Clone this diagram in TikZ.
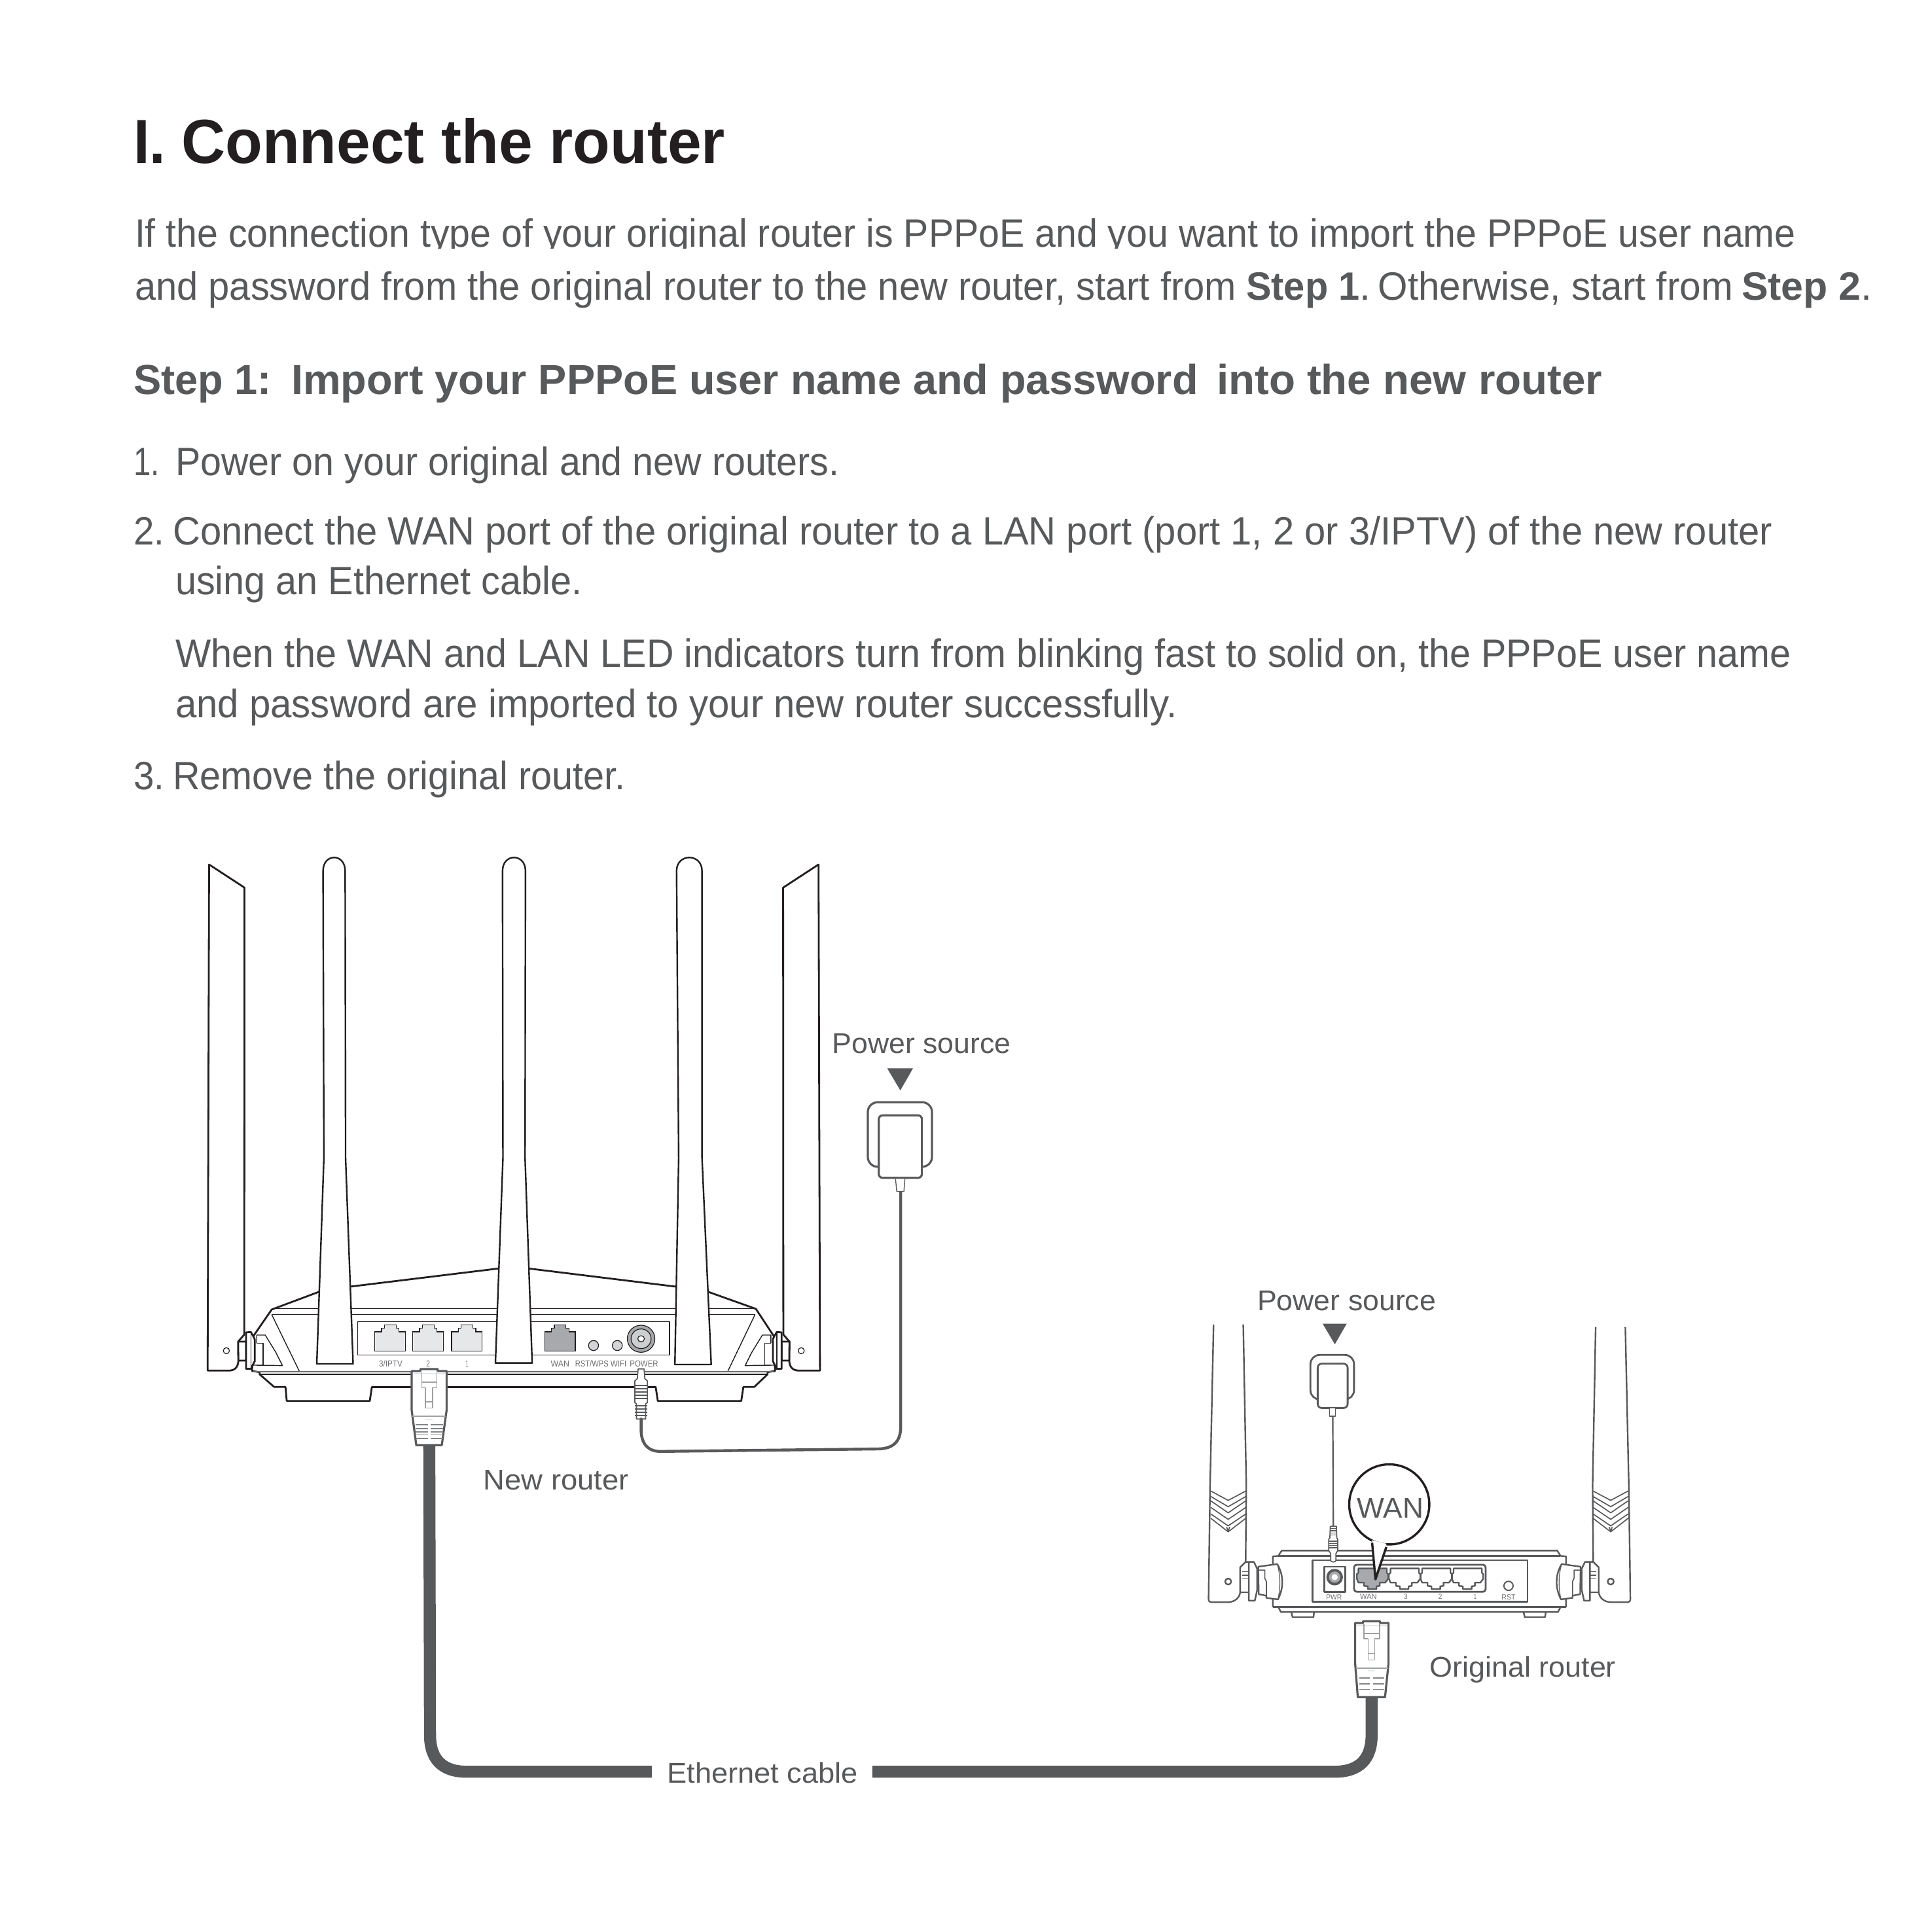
\documentclass[tikz,border=0pt]{standalone}
\usepackage{fontspec}
\setmainfont{Liberation Sans}
\usepackage{graphicx}
\definecolor{ink}{HTML}{231F20}
\definecolor{txt}{HTML}{58595B}
\definecolor{tinyc}{HTML}{6D6E71}
\definecolor{pale}{HTML}{E6E7E8}
\definecolor{mid}{HTML}{A7A9AC}
\definecolor{clip}{HTML}{9EA0A2}
\newsavebox\fitbox
\newlength\fitlen
\newcommand\fit[2]{\sbox\fitbox{#2}\setlength\fitlen{\wd\fitbox}\pgfmathsetmacro\fitr{#1*0.47066/\fitlen}\scalebox{\fitr}[1]{\usebox\fitbox}}
% name, x, baseline, width, style, text
\newcommand\lbl[6]{\node[anchor=base west,inner sep=0pt,#5] (#1) at (#2,#3) {\fit{#4}{#6}};}
\newcommand\clbl[6]{\node[anchor=base,inner sep=0pt,#5] (#1) at (#2,#3) {\fit{#4}{#6}};}
\tikzset{
  titletext/.style={font=\fontsize{23.8}{26}\selectfont\bfseries,text=ink},
  bodytext/.style={font=\fontsize{15.1}{18}\selectfont,text=txt},
  boldtext/.style={font=\fontsize{15.1}{18}\selectfont\bfseries,text=txt},
  headtext/.style={font=\fontsize{16}{18}\selectfont\bfseries,text=txt},
  labeltext/.style={font=\fontsize{10.9}{12}\selectfont,text=txt},
  tinytext/.style={font=\fontsize{3.3}{4}\selectfont,text=tinyc},
  tinytextb/.style={font=\fontsize{2.8}{3.5}\selectfont,text=tinyc},
  bline/.style={draw=ink,line width=0.7pt,line join=round},
  hair/.style={draw=ink,line width=0.35pt,line join=round},
  sline/.style={draw=txt,line width=0.6pt,line join=round},
  shair/.style={draw=txt,line width=0.42pt,line join=round},
  cordline/.style={draw=txt,line width=1.1pt,line cap=round},
  ethline/.style={draw=txt,line width=4.6pt},
  plugline/.style={draw=txt,line width=0.8pt,line join=round,fill=white},
  clipline/.style={draw=clip,line width=0.42pt,line join=round},
  bigframe/.style={shift={(148.7,1009.2)},xscale=0.33875,yscale=0.17705},
  smallframe/.style={shift={(966.85,1062.3)},xscale=0.2358,yscale=0.21},
  hframe/.style={shift={(159.3,1062.3)},scale=0.17705},
  sframe/.style={shift={(977.3,1205.7)},scale=0.17705},
  pframe/.style={shift={(1067.6,1258.8)},scale=0.17705},
  qframe/.style={shift={(308.1,1104.8)},scale=0.17705},
}
\newcommand\rtport[2]{\draw[draw=ink,line width=0.35pt,fill=#2,shift={(#1,0)}] (459,493)--(459,405)--(475,405)--(475,388)--(482,388)--(482,373)--(510,373)--(510,388)--(517,388)--(517,405)--(532,405)--(532,493)--cycle;}
\newcommand\rtflat{%
  \draw[bline,fill=white] (58.7,-2037)--(221,-1931)--(220,118)--(192,150)--(193,240) .. controls (190,270) and (175,283) .. (148,283)--(52,283)--cycle;
  \draw[hair,line width=0.3pt] (138,192) circle [radius=14];
}
\newcommand\rthinge{%
  \draw[bline,fill=white] (192,150)--(228,150)--(228,237)--(193,237)--cycle;
  \draw[bline,fill=white] (228,108)--(250,106)--(264,130)--(268,140)--(268,240)--(253,268)--(252,275)--(228,275)--cycle;
  \draw[hair] (250,106)--(250,275);
  \draw[hair] (277,157)--(277,120)--(316,120)--(365,200)--(395,260)--(262,258);
  \draw[hair] (277,157)--(306,157)--(306,258);
}
\newcommand\rtant[7]{\draw[bline,fill=white,line width=0.6pt] (#1,#7)--(#2,-391)--(#3,-1707) .. controls (#3,-1790) and (#4,-1790) .. (#4,-1707)--(#5,-391)--(#6,#7)--cycle;}
\newcommand\smant[1]{%
  \draw[sline,fill=white] (43,#1)--(27,0)--(20,520) .. controls (20,530) and (25,535) .. (32,535)--(105,535) .. controls (145,535) and (165,510) .. (165,485)--(165,375)--(190,350)--(193,0)--(179,#1);
  \foreach \aa/\bb in {25/68,50/97,70/125,100/155,130/185,150/212}{\draw[shair] (30,\aa)--(110,\bb)--(191,\aa);}
  \draw[shair] (103,190)--(110,210)--(117,190);
  \draw[sline] (110,440) circle [radius=14];
}
\newcommand\smhinge{%
  \draw[sline,fill=white] (190,350)--(228,350)--(243,382)--(243,478)--(232,528)--(205,528)--(205,350)--cycle;
  \draw[sline] (205,490)--(168,490);
  \draw[shair] (175,395)--(205,395) (175,412)--(205,412) (175,428)--(205,428);
  \draw[sline,fill=white] (248,372)--(335,360) .. controls (365,410) and (365,470) .. (338,522)--(285,515)--(285,505)--(250,498)--cycle;
  \draw[shair,line width=0.3pt] (335,360) .. controls (350,410) and (350,470) .. (338,522);
  \draw[shair] (248,388)--(278,388)--(278,425)--(285,440)--(285,505);
}
\newcommand\smport[2]{\draw[sline,fill=#2,shift={(#1,0)}] (197,80)--(327,80)--(327,100)--(333,106)--(333,128)--(320,145)--(295,145)--(295,160)--(280,162)--(280,175)--(240,175)--(240,162)--(222,160)--(222,145)--(197,145)--(190,128)--(190,106)--(197,100)--cycle;}
\begin{document}
\begin{tikzpicture}[x=0.47066pt,y=-0.47066pt]
\useasboundingbox (0,0) rectangle (1568,1549.4);
\fill[white] (0,0) rectangle (1568,1549.4);
% ---- text ----
\lbl{titlenum}{108}{132.5}{26}{titletext}{I.}
\lbl{title}{147}{132.5}{441}{titletext}{Connect the router}
\lbl{intro1}{109}{200.4}{1348}{bodytext}{If the connection type of your original router is PPPoE and you want to import the PPPoE user name}
\fill[white] (100,202) rectangle (1540,216);
\lbl{introA}{109}{243.4}{894}{bodytext}{and password from the original router to the new router, start from}
\lbl{introB}{1011}{243.4}{92}{boldtext}{Step 1}
\lbl{introC}{1103}{243.4}{9}{bodytext}{.}
\lbl{introD}{1118}{243.4}{288}{bodytext}{Otherwise, start from}
\lbl{introE}{1413}{243.4}{97}{boldtext}{Step 2}
\lbl{introF}{1510}{243.4}{9}{bodytext}{.}
\lbl{headA}{108}{320}{112}{headtext}{Step 1:}
\lbl{headB}{236}{320}{736}{headtext}{Import your PPPoE user name and password}
\lbl{headC}{987}{320}{313}{headtext}{into the new router}
\lbl{numone}{108}{386}{21}{bodytext}{1.}
\lbl{itemone}{142}{386}{539}{bodytext}{Power on your original and new routers.}
\lbl{numtwo}{108}{442}{25}{bodytext}{2.}
\lbl{itemtwoa}{140}{442}{1298}{bodytext}{Connect the WAN port of the original router to a LAN port (port 1, 2 or 3/IPTV) of the new router}
\lbl{itemtwob}{142}{482.5}{330}{bodytext}{using an Ethernet cable.}
\lbl{itemtwoc}{142}{541.5}{1311}{bodytext}{When the WAN and LAN LED indicators turn from blinking fast to solid on, the PPPoE user name}
\lbl{itemtwod}{142}{582.5}{813}{bodytext}{and password are imported to your new router successfully.}
\lbl{numthree}{108}{641}{25}{bodytext}{3.}
\lbl{itemthree}{140}{641}{367}{bodytext}{Remove the original router.}
\lbl{powerA}{675}{855}{145}{labeltext}{Power source}
\lbl{powerB}{1020}{1063.5}{145}{labeltext}{Power source}
\lbl{newrouter}{392}{1209}{118}{labeltext}{New router}
\lbl{origrouter}{1160}{1361}{151}{labeltext}{Original router}
\lbl{ethlabel}{541}{1447}{155}{labeltext}{Ethernet cable}
% ---- ethernet cable ----
\coordinate (plugA) at (348.4,1172);
\coordinate (plugB) at (1113.2,1376);
\coordinate (ethL) at (529,1438);
\coordinate (ethR) at (708,1438);
\draw[ethline] (plugA)--(349,1408) .. controls (349,1428) and (359,1438) .. (379,1438)--(ethL);
\draw[ethline] (ethR)--(1083,1438) .. controls (1103,1438) and (1113.2,1428) .. (1113.2,1408)--(plugB);
% ---- new router ----
\begin{scope}[hframe]\rtflat\end{scope}
\begin{scope}[shift={(834,0)},xscale=-1]\begin{scope}[hframe]\rtflat\end{scope}\end{scope}
\begin{scope}[bigframe]
  \draw[bline,fill=white] (212,303)--(325,222)--(400,198)--(755,115)--(828,115)--(1180,198)--(1258,222)--(1372,300)--(1415,425)--(1418,585)--(1400,590)--(1400,600)--(1368,658)--(1342,658)--(1337,722)--(1137,722)--(1132,658)--(452,658)--(447,722)--(248,722)--(245,658)--(218,658)--(183,600)--(183,590)--(165,585)--(168,425)--cycle;
  \draw[hair] (215,298)--(1370,298) (183,600)--(1400,600);
  \draw[draw=tinyc,line width=0.45pt] (168,587)--(1415,587);
  \draw[draw=ink,line width=0.3pt] (212,326)--(1370,326);
  \draw[hair] (212,326)--(278,585) (1370,326)--(1305,585);
  \draw[bline,line width=0.9pt] (452,658)--(1132,658);
  \draw[hair,line width=0.4pt,fill=white] (418,358) rectangle (1165,512);
  \rtport{0}{pale}\rtport{91}{pale}\rtport{184}{pale}\rtport{407}{mid}
  \draw[draw=ink,line width=0.3pt,fill=pale!70!mid] (983,468) circle [x radius=12,y radius=23];
  \draw[draw=ink,line width=0.3pt,fill=pale!70!mid] (1040,468) circle [x radius=12,y radius=23];
  \draw[draw=ink,line width=0.3pt,fill=mid] (1097,437) circle [x radius=33,y radius=62];
  \draw[draw=ink,line width=0.3pt,fill=pale!60!mid] (1097,437) circle [x radius=24,y radius=45];
  \draw[draw=ink,line width=0.3pt,fill=white] (1097,437) circle [x radius=8,y radius=14];
  \rtant{320}{337}{335}{388}{389}{407}{552}
  \rtant{748}{766}{765}{820}{819}{836}{548}
  \rtant{1178}{1187}{1182}{1243}{1243}{1265}{555}
  \clbl{lblA}{497}{566}{19}{tinytext}{3/IPTV}
  \clbl{lblB}{587}{566}{3}{tinytext}{2}
  \clbl{lblC}{680}{566}{2}{tinytext}{1}
  \clbl{lblD}{903}{566}{15}{tinytext}{WAN}
  \clbl{lblE}{979}{566}{27}{tinytext}{RST/WPS}
  \clbl{lblF}{1043}{566}{13}{tinytext}{WIFI}
  \clbl{lblG}{1104}{566}{23}{tinytext}{POWER}
  % power plug
  \coordinate (jackA) at (1097,805);
  \draw[shair,fill=white] (1090,575)--(1104,575)--(1106,620)--(1112,630)--(1112,730)--(1108,735)--(1108,805)--(1086,805)--(1086,735)--(1082,730)--(1082,630)--(1088,620)--cycle;
  \foreach \q in {650,665,680,695,710,745,760,775,790}{\draw[shair] (1082,\q)--(1112,\q);}
\end{scope}
\begin{scope}[hframe]\rthinge\end{scope}
\begin{scope}[shift={(834,0)},xscale=-1]\begin{scope}[hframe]\rthinge\end{scope}\end{scope}
% rj45 of the new router
\begin{scope}[qframe]
  \draw[plugline] (147,45)--(187,45)--(187,36)--(266,36)--(266,45)--(307,45)--(307,225)--(285,385)--(168,385)--(147,225)--cycle;
  \draw[draw=pale,line width=0.5pt] (155,56)--(300,56);
  \draw[clipline] (193,50)--(193,97)--(262,97)--(262,50);
  \draw[clipline] (193,97)--(193,122)--(210,122)--(210,215)--(243,215)--(243,122)--(262,122)--(262,97);
  \draw[clipline] (210,187)--(243,187);
  \draw[clipline] (150,252)--(303,252);
  \draw[draw=pale,line width=0.5pt] (210,267)--(242,267);
  \foreach \q in {292,310,325,338,355}{\draw[draw=clip!60!txt,line width=0.42pt] (165,\q)--(222,\q) (235,\q)--(291,\q);}
\end{scope}
\coordinate (adapterA) at (731,967);
\draw[cordline] (jackA)--(520.3,1160) .. controls (520.3,1172) and (526,1178) .. (536,1178)--(712,1176) .. controls (725,1176) and (731,1170) .. (731,1158)--(adapterA);
\fill[txt] (720,867)--(741,867)--(730.7,885)--cycle;
\draw[plugline,rounded corners=3.77pt] (704.3,894.6) rectangle (756.4,947);
\draw[plugline,rounded corners=1.5pt] (713.2,905.2) rectangle (748.2,956);
\draw[shair,line width=0.35pt,fill=white] (726.8,957)--(727.8,967)--(733.6,967)--(734.4,957);
% ---- original router ----
\begin{scope}[sframe]\smant{-738}\end{scope}
\begin{scope}[shift={(2304,0)},xscale=-1]\begin{scope}[sframe]\smant{-726}\end{scope}\end{scope}
\draw[sline,fill=white] (1040.2,1258.5)--(1263.8,1258.5)--(1266.5,1262.8)--(1271,1263.2)--(1271,1304)--(1266.5,1304.4)--(1264.4,1308.4)--(1039.6,1308.4)--(1037.5,1304.4)--(1033,1304)--(1033,1263.2)--(1037.5,1262.8)--cycle;
\draw[sline] (1037.5,1262.8)--(1266.5,1262.8) (1033,1304.2)--(1271,1304.2);
\draw[sline] (1048,1308.4)--(1049,1312.5)--(1066,1312.5)--(1066.5,1308.4) (1236.5,1308.4)--(1237.5,1312.5)--(1254,1312.5)--(1254.5,1308.4);
\begin{scope}[sframe]\smhinge\end{scope}
\begin{scope}[shift={(2304,0)},xscale=-1]\begin{scope}[sframe]\smhinge\end{scope}\end{scope}
\draw[sline] (1065.3,1266.2) rectangle (1239.6,1300);
\begin{scope}[pframe]
  \draw[sline,line width=0.7pt] (40,72) rectangle (137,188);
  \fill[txt] (88,120) circle [radius=38];
  \fill[mid] (88,120) circle [radius=26];
  \fill[white] (88,120) circle [radius=14];
  \draw[sline,line width=0.7pt,rounded corners=1pt] (177,63) rectangle (780,187);
  \smport{0}{mid}\smport{147}{white}\smport{292}{white}\smport{436}{white}
  \draw[sline,line width=0.5pt] (885,160) circle [radius=21];
  \clbl{lblH}{85}{225}{12.7}{tinytextb}{PWR}
  \clbl{lblI}{243}{222}{13.6}{tinytextb}{WAN}
  \clbl{lblJ}{414}{222}{3}{tinytextb}{3}
  \clbl{lblK}{572}{222}{3}{tinytextb}{2}
  \clbl{lblL}{732}{222}{2}{tinytextb}{1}
  \clbl{lblM}{885}{225}{11.2}{tinytextb}{RST}
  % rj45 of the original router
  \draw[plugline] (182,330)--(218,330)--(218,322)--(296,322)--(296,330)--(335,330)--(335,515)--(319,670)--(194,670)--(182,515)--cycle;
  \draw[draw=pale,line width=0.5pt] (190,343)--(328,343);
  \draw[clipline] (222,333)--(222,378)--(295,378)--(295,333);
  \draw[clipline] (222,378)--(222,402)--(242,402)--(242,500)--(272,500)--(272,402)--(295,402)--(295,378);
  \draw[clipline] (242,470)--(272,470);
  \draw[clipline] (185,537)--(332,537);
  \draw[draw=pale,line width=0.5pt] (240,548)--(270,548);
  \foreach \q in {583,609,635}{\draw[draw=clip!60!txt,line width=0.42pt] (200,\q)--(250,\q) (265,\q)--(315,\q);}
\end{scope}
% callout
\draw[draw=ink,line width=0.85pt,fill=white] (1127.5,1221) circle [radius=32.5];
\fill[white] (1113.4,1250)--(1116.3,1278)--(1125.3,1253)--cycle;
\draw[draw=ink,line width=0.85pt,line join=round] (1113.6,1252.1)--(1116.3,1281.8)--(1125.1,1255.6);
\begin{scope}[smallframe]
  \fill[txt] (452,57)--(535,57)--(494,137)--cycle;
  \draw[plugline,line width=0.7pt,rounded corners=3.5pt] (410,178) rectangle (560,350);
  \draw[plugline,line width=0.7pt,rounded corners=1.5pt] (435,212) rectangle (538,383);
  \draw[shair,fill=white] (476,383) rectangle (496,415);
  \coordinate (adapterB) at (487,415);
\end{scope}
\begin{scope}[sframe]
  \coordinate (jackB) at (592,187);
  \draw[shair,fill=white] (578,187)--(606,187)--(608,240)--(612,246)--(612,298)--(604,312)--(604,345) .. controls (600,352) and (584,352) .. (580,345)--(580,312)--(571,298)--(571,246)--(576,240)--cycle;
  \foreach \q in {197,207,217,227}{\draw[shair,line width=0.35pt] (578,\q)--(606,\q);}
  \foreach \q in {255,265,275,285}{\draw[shair,line width=0.35pt] (571,\q)--(612,\q);}
\end{scope}
\draw[shair,line width=0.55pt] (adapterB)--(jackB);
\lbl{wanbubble}{1101}{1232}{54}{labeltext}{WAN}
\end{tikzpicture}
\end{document}
